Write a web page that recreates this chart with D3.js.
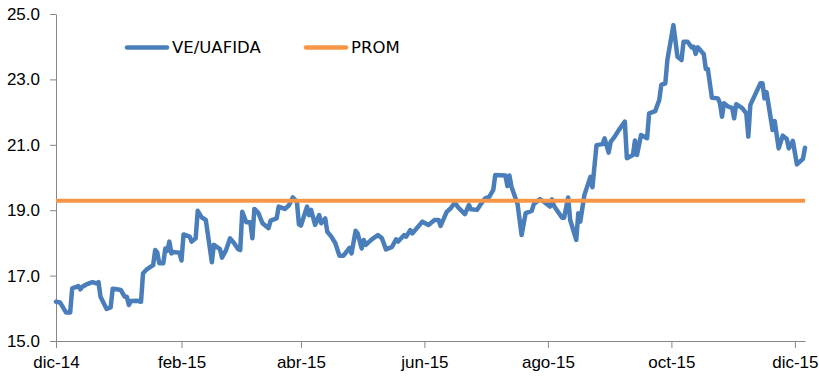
<!DOCTYPE html>
<html>
<head>
<meta charset="utf-8">
<script src="https://cdn.jsdelivr.net/npm/d3@7"></script>
<style>
    body { margin: 0; background: #fff; }
    svg { display: block; font-family: "DejaVu Sans", Verdana, sans-serif; }
    .axis path, .axis line { stroke: #868686; }
    .axis text { fill: #000; font-size: 17px; }
    .legend text { fill: #000; font-size: 16.5px; }
</style>
</head>
<body>
<svg id="chart" width="819" height="377"></svg>
<script>
/**
 * VE/UAFIDA daily series against its average (PROM), dic-14 to dic-15.
 * Values.
 */
const seriesNames = ['VE/UAFIDA', 'PROM'];

const dates = [
    '2014-12-01', '2014-12-03', '2014-12-06', '2014-12-08', '2014-12-09', '2014-12-12', '2014-12-13', '2014-12-14',
    '2014-12-16', '2014-12-19', '2014-12-21', '2014-12-22', '2014-12-23', '2014-12-26', '2014-12-28', '2014-12-29',
    '2014-12-31', '2015-01-02', '2015-01-04', '2015-01-05', '2015-01-06', '2015-01-07', '2015-01-10', '2015-01-12',
    '2015-01-13', '2015-01-15', '2015-01-18', '2015-01-19', '2015-01-20', '2015-01-21', '2015-01-23', '2015-01-24',
    '2015-01-25', '2015-01-26', '2015-01-27', '2015-01-28', '2015-01-31', '2015-02-01', '2015-02-02', '2015-02-05',
    '2015-02-06', '2015-02-08', '2015-02-09', '2015-02-11', '2015-02-13', '2015-02-16', '2015-02-17', '2015-02-20',
    '2015-02-21', '2015-02-23', '2015-02-25', '2015-02-27', '2015-03-01', '2015-03-02', '2015-03-03', '2015-03-05',
    '2015-03-07', '2015-03-08', '2015-03-09', '2015-03-11', '2015-03-13', '2015-03-16', '2015-03-17', '2015-03-20',
    '2015-03-21', '2015-03-24', '2015-03-26', '2015-03-28', '2015-03-30', '2015-03-31', '2015-04-01', '2015-04-04',
    '2015-04-05', '2015-04-06', '2015-04-08', '2015-04-10', '2015-04-11', '2015-04-13', '2015-04-14', '2015-04-16',
    '2015-04-18', '2015-04-20', '2015-04-22', '2015-04-25', '2015-04-26', '2015-04-28', '2015-04-29', '2015-05-01',
    '2015-05-02', '2015-05-03', '2015-05-06', '2015-05-09', '2015-05-11', '2015-05-13', '2015-05-16', '2015-05-18',
    '2015-05-19', '2015-05-22', '2015-05-23', '2015-05-25', '2015-05-26', '2015-05-31', '2015-06-03', '2015-06-06',
    '2015-06-08', '2015-06-09', '2015-06-12', '2015-06-14', '2015-06-16', '2015-06-18', '2015-06-21', '2015-06-23',
    '2015-06-24', '2015-06-27', '2015-06-29', '2015-07-01', '2015-07-03', '2015-07-05', '2015-07-06', '2015-07-11',
    '2015-07-12', '2015-07-13', '2015-07-14', '2015-07-17', '2015-07-19', '2015-07-21', '2015-07-24', '2015-07-25',
    '2015-07-28', '2015-07-30', '2015-08-02', '2015-08-03', '2015-08-04', '2015-08-08', '2015-08-09', '2015-08-11',
    '2015-08-12', '2015-08-15', '2015-08-16', '2015-08-17', '2015-08-19', '2015-08-22', '2015-08-23', '2015-08-25',
    '2015-08-28', '2015-08-29', '2015-08-31', '2015-09-01', '2015-09-03', '2015-09-05', '2015-09-08', '2015-09-09',
    '2015-09-12', '2015-09-13', '2015-09-14', '2015-09-16', '2015-09-19', '2015-09-20', '2015-09-23', '2015-09-25',
    '2015-09-26', '2015-09-28', '2015-09-29', '2015-09-30', '2015-10-02', '2015-10-04', '2015-10-06', '2015-10-07',
    '2015-10-09', '2015-10-11', '2015-10-12', '2015-10-13', '2015-10-14', '2015-10-15', '2015-10-17', '2015-10-18',
    '2015-10-19', '2015-10-21', '2015-10-24', '2015-10-25', '2015-10-26', '2015-10-27', '2015-10-29', '2015-10-31',
    '2015-11-01', '2015-11-02', '2015-11-05', '2015-11-07', '2015-11-08', '2015-11-09', '2015-11-12', '2015-11-14',
    '2015-11-15', '2015-11-16', '2015-11-17', '2015-11-20', '2015-11-21', '2015-11-23', '2015-11-25', '2015-11-27',
    '2015-11-28', '2015-11-30', '2015-12-02', '2015-12-05', '2015-12-06'
];

const veUafida = [
    16.20, 16.18, 15.87, 15.87, 16.61, 16.68, 16.58, 16.66,
    16.73, 16.80, 16.76, 16.80, 16.35, 15.98, 16.03, 16.60,
    16.58, 16.56, 16.35, 16.35, 16.10, 16.22, 16.23, 16.20,
    17.07, 17.20, 17.32, 17.78, 17.71, 17.38, 17.38, 17.83,
    17.76, 18.04, 17.68, 17.72, 17.70, 17.46, 18.26, 18.19,
    18.04, 18.14, 18.98, 18.78, 18.70, 17.41, 17.94, 17.81,
    17.55, 17.78, 18.14, 17.99, 17.81, 17.78, 18.95, 18.63,
    18.63, 18.14, 19.04, 18.91, 18.60, 18.45, 18.68, 18.75,
    19.11, 19.04, 19.14, 19.39, 19.26, 18.57, 18.53, 19.11,
    18.85, 19.01, 18.55, 18.85, 18.60, 18.75, 18.34, 18.19,
    17.99, 17.61, 17.61, 17.85, 17.68, 18.37, 18.29, 17.83,
    18.09, 17.94, 18.11, 18.24, 18.14, 17.80, 17.88, 18.11,
    18.04, 18.24, 18.19, 18.39, 18.29, 18.65, 18.55, 18.70,
    18.70, 18.52, 18.95, 19.06, 19.23, 19.06, 18.88, 19.16,
    19.03, 19.01, 19.20, 19.36, 19.41, 19.62, 20.08, 20.06,
    19.74, 20.06, 19.72, 19.19, 18.24, 18.91, 18.98, 19.18,
    19.34, 19.26, 19.11, 19.33, 19.13, 18.77, 18.77, 19.39,
    18.70, 18.09, 18.91, 18.65, 19.46, 20.02, 19.70, 20.99,
    21.02, 21.20, 20.76, 21.09, 21.25, 21.45, 21.71, 20.59,
    20.69, 21.13, 20.69, 21.30, 21.20, 21.96, 22.03, 22.37,
    22.83, 22.88, 23.59, 23.95, 24.66, 23.69, 23.59, 24.15,
    24.15, 23.98, 24.00, 23.78, 23.98, 23.92, 23.77, 23.32,
    23.32, 22.44, 22.42, 22.27, 21.86, 22.27, 22.17, 22.13,
    21.81, 22.24, 22.12, 21.96, 21.25, 22.22, 22.62, 22.88,
    22.88, 22.42, 22.61, 21.45, 21.73, 20.89, 21.28, 21.18,
    20.89, 21.12, 20.40, 20.57, 20.91
];

const promValue = 19.29;

const yTicks = [15, 17, 19, 21, 23, 25];
const xTickDates = ['2014-12-01', '2015-02-01', '2015-04-01', '2015-06-01', '2015-08-01', '2015-10-01', '2015-12-01'];
const xTickLabels = ['dic-14', 'feb-15', 'abr-15', 'jun-15', 'ago-15', 'oct-15', 'dic-15'];
const xDomain = ['2014-12-01', '2015-12-06'];

/**
 * Visual configs.
 */
const plot = { left: 56, right: 805, top: 14, bottom: 341 },
    colors = { ve: '#4a7ebb', prom: '#f79646' };

const parseDate = d3.timeParse('%Y-%m-%d');

const svg = d3.select('#chart');

const xScale = d3.scaleTime()
    .domain(xDomain.map(parseDate))
    .range([plot.left, plot.right]);
const yScale = d3.scaleLinear()
    .domain([15, 25])
    .range([plot.bottom, plot.top]);

// Axes
const xAxis = d3.axisBottom(xScale)
    .tickValues(xTickDates.map(parseDate))
    .tickFormat((d, i) => xTickLabels[i])
    .tickSizeInner(7)
    .tickSizeOuter(0)
    .tickPadding(8);
const yAxis = d3.axisLeft(yScale)
    .tickValues(yTicks)
    .tickFormat(d3.format('.1f'))
    .tickSizeInner(6)
    .tickSizeOuter(0)
    .tickPadding(10);

svg.append('g').attr('class', 'axis x')
    .attr('transform', 'translate(0,' + plot.bottom + ')')
    .call(xAxis);
svg.append('g').attr('class', 'axis y')
    .attr('transform', 'translate(' + plot.left + ',0)')
    .call(yAxis);

// Lines (PROM sits on top of the series, as in the original)
const veData = dates.map((d, i) => ({ date: parseDate(d), value: veUafida[i] }));
const promData = veData.map(d => ({ date: d.date, value: promValue }));

const line = d3.line()
    .x(d => xScale(d.date))
    .y(d => yScale(d.value));

svg.append('path').datum(veData)
    .attr('fill', 'none')
    .attr('stroke', colors.ve)
    .attr('stroke-width', 4.5)
    .attr('stroke-linejoin', 'round')
    .attr('stroke-linecap', 'round')
    .attr('d', line);

svg.append('path').datum(promData)
    .attr('fill', 'none')
    .attr('stroke', colors.prom)
    .attr('stroke-width', 4)
    .attr('d', line);

// Legend
const legend = svg.append('g').attr('class', 'legend');
const legendItems = [
    { name: seriesNames[0], color: colors.ve, x: 127 },
    { name: seriesNames[1], color: colors.prom, x: 306 }
];
legendItems.forEach(item => {
    legend.append('line')
        .attr('x1', item.x).attr('x2', item.x + 40)
        .attr('y1', 47.5).attr('y2', 47.5)
        .attr('stroke', item.color)
        .attr('stroke-width', 4.5)
        .attr('stroke-linecap', 'round');
    legend.append('text')
        .attr('x', item.x + 45)
        .attr('y', 47.5)
        .attr('dy', '0.36em')
        .text(item.name);
});
</script>
</body>
</html>
